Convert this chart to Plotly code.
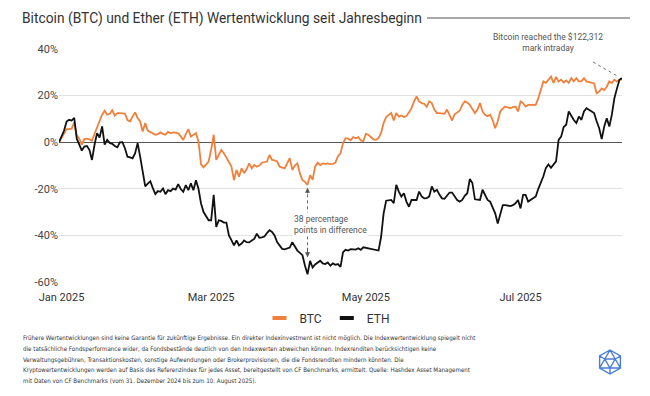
import math
import pandas as pd
import plotly.graph_objects as go

# ---------------- data ----------------
dates = pd.date_range("2024-12-31", "2025-08-10", freq="D").strftime("%Y-%m-%d").tolist()

btc = [
    0, 2, 4, 5.6, 5.6, 5.8, 8.5, 3, 1.5, -1,
    1.3, 1.5, 1.2, 0.6, 3.5, 6.5, 9, 11.8, 13.5, 11.8,
    12.2, 13.7, 11.4, 12.5, 12.5, 12.5, 12.3, 9.5, 8.9, 11,
    12.8, 10.4, 8.9, 4.6, 8.2, 5, 4.5, 3.9, 3.2, 3.5,
    4.2, 3.6, 3.2, 4.4, 3.9, 4.2, 4, 3.9, 2.5, 1,
    3.5, 5.6, 2.4, 3.2, 3.9, 0.3, -9.5, -10.8, -9.5, -8.3,
    -3.2, 3.2, -7.6, -5.4, -3.3, -4.7, -6.9, -8.5, -10.5, -16.3,
    -11.9, -14.8, -11.2, -13.3, -11.5, -9.1, -11.2, -9.8, -10.5, -10,
    -8.8, -8.5, -8.3, -5.5, -7.6, -7.8, -8.3, -10.5, -10.8, -11.2,
    -9, -6.9, -11.9, -10, -9.1, -13.4, -16.3, -17, -18.3, -14.2,
    -16.1, -10.5, -8.8, -9.8, -9.1, -9.3, -9.1, -9.4, -9.3, -8.8,
    -6, -4.8, -0.4, 1.7, 1.5, 0.8, 2.2, 1.7, 2.2, 0.8,
    0.5, 3.6, 3.2, 2.2, 1.2, 1, 1.7, 4, 8.2, 10.8,
    11.5, 12.5, 9.3, 12.5, 11, 11.5, 10.8, 11.2, 12.8, 14.6,
    17.5, 19.6, 17.5, 16.8, 16.5, 15.2, 17.5, 16.8, 14, 12.5,
    12.5, 12.5, 12.2, 14, 11.8, 9.3, 12, 12.8, 13.5, 16,
    17.5, 17, 16, 14.2, 12.5, 14, 16.8, 13.2, 11.8, 11.2,
    11.8, 9.5, 6, 9, 13.2, 14.5, 15.3, 14.9, 14.6, 15.1,
    15.3, 13.2, 17.5, 16.8, 15.3, 16, 16, 16, 16, 18.9,
    22.5, 26.1, 25.5, 26.8, 28.2, 25.5, 28, 26.1, 26.8, 25.6,
    26.5, 25.5, 27.5, 26.1, 27.5, 26.1, 26.1, 27.5, 26.1, 25.8,
    25.5, 25.2, 21, 21.7, 23.1, 22.4, 23.8, 26.1, 25.4, 26.8,
    26.1, 26.8, 27,
]

eth = [
    0, 2.5, 5, 8.9, 9.6, 9.3, 10.4, 1.5, -1.2, -3.6,
    -1.9, -1.6, -3.3, -7.6, -1.2, 3.9, 2, 6.8, -1, 1,
    -0.3, -0.7, -1.6, -2.2, -0.1, 0, -2.6, -6.2, -6.5, -6.9,
    -4.8, -0.4, -6.2, -13.4, -19, -17.8, -16.8, -19.7, -22.3, -21,
    -21.3, -19.9, -22.3, -20.6, -21, -19.9, -20.3, -18, -20.1, -21.3,
    -18.4, -20.6, -17.7, -20.6, -16.3, -20, -26.3, -30, -31.8, -33.5,
    -33.5, -22.6, -36.4, -33.5, -33.8, -34.5, -34.5, -40, -42, -44.3,
    -42.2, -44.3, -43.5, -42.2, -42.9, -43, -42.2, -41.5, -39.3, -41,
    -40.8, -40.5, -39, -37.8, -38.5, -40, -42.9, -44.5, -45.8, -46,
    -45.5, -45.2, -42.9, -44.5, -46.5, -47.5, -48.5, -53, -56.7, -50.9,
    -53.8, -52.5, -51.5, -50.9, -52, -52.3, -51.6, -53, -52, -52.6,
    -52.3, -53.5, -47.2, -46.2, -46.5, -45.9, -46, -46.1, -45.5, -46.2,
    -45.1, -45.3, -45.4, -45.8, -46.1, -46.3, -46.5, -40.7, -30.6, -25.1,
    -24.8, -24.8, -26.2, -18.3, -21.2, -23.3, -21.9, -25.5, -27.7, -24.8,
    -24.8, -24.8, -21.2, -23.3, -24.1, -24, -23.3, -19, -21.2, -20.4,
    -22.5, -24.1, -24.3, -23, -21.6, -21.6, -23.5, -24.8, -25.5, -24.8,
    -23, -21.9, -15.8, -17.5, -24.5, -24.5, -24.8, -20.4, -22.5, -24.8,
    -25.5, -28, -30.5, -34.9, -30.5, -27, -27, -27.2, -27.4, -27,
    -26.2, -24.8, -28.4, -22.6, -22.6, -25.5, -24.8, -24, -23.3, -20,
    -17.5, -14.6, -11, -9.6, -11, -9.6, -8.2, 1, 2.4, 6.5,
    7.5, 13.2, 11.3, 9.5, 8.2, 11, 9.6, 13.2, 14.6, 13.8,
    13.2, 12.5, 9, 6, 1.3, 6.7, 10.3, 6.7, 11.8, 18.9,
    23, 26.8, 27.5,
]

y_ticks = [-60, -40, -20, 0, 20, 40]
y_tick_labels = ["-60%", "-40%", "-20%", "0%", "20%", "40%"]
x_ticks = ["2025-01-01", "2025-03-01", "2025-05-01", "2025-07-01"]
x_tick_labels = ["Jan 2025", "Mar 2025", "May 2025", "Jul 2025"]

footer_lines = [
    "Frühere Wertentwicklungen sind keine Garantie für zukünftige Ergebnisse. Ein direkter Indexinvestment ist nicht möglich. Die Indexwertentwicklung spiegelt nicht",
    "die tatsächliche Fondsperformance wider, da Fondsbestände deutlich von den Indexwerten abweichen können. Indexrenditen berücksichtigen keine",
    "Verwaltungsgebühren, Transaktionskosten, sonstige Aufwendungen oder Brokerprovisionen, die die Fondsrenditen mindern könnten. Die",
    "Kryptowertentwicklungen werden auf Basis des Referenzindex für jedes Asset, bereitgestellt von CF Benchmarks, ermittelt. Quelle: Hashdex Asset Management",
    "mit Daten von CF Benchmarks (vom 31. Dezember 2024 bis zum 10. August 2025).",
]

assert len(dates) == len(btc) == len(eth)

# ---------------- styling ----------------
OFF = 8                      # page body margin of the browser
W, H = 650 - OFF, 396 - OFF
L, R, T, B = 51, 28, 41, 114
PW, PH = W - L - R, H - T - B
BTC_COLOR = "#F0803C"
ETH_COLOR = "#111111"
FONT = "Roboto, 'Noto Sans', sans-serif"
FOOT_FONT = "'Liberation Sans Narrow', 'DejaVu Sans Condensed', 'Liberation Sans', sans-serif"


def px_x(xs):
    """screen x pixel -> paper coordinate"""
    return (xs - OFF - L) / PW


def px_y(ys):
    """screen y pixel -> paper coordinate"""
    return (H - B - (ys - OFF)) / PH


fig = go.Figure()
fig.add_trace(go.Scatter(x=dates, y=btc, mode="lines", name="BTC",
                         line=dict(color=BTC_COLOR, width=1.8), showlegend=False))
fig.add_trace(go.Scatter(x=dates, y=eth, mode="lines", name="ETH",
                         line=dict(color=ETH_COLOR, width=1.8), showlegend=False))
for name, col in (("BTC", BTC_COLOR), ("ETH", ETH_COLOR)):
    fig.add_trace(go.Scatter(x=[None], y=[None], mode="markers", name=name,
                             marker=dict(symbol="line-ew", size=10,
                                         line=dict(color=col, width=4))))

i_min = btc.index(min(btc))
d_min = dates[i_min]

shapes = [
    dict(type="line", xref="paper", yref="paper", x0=px_x(427), x1=px_x(630),
         y0=px_y(18), y1=px_y(18), line=dict(color="#555555", width=1)),
    dict(type="line", xref="x", yref="y", x0=d_min, x1=d_min,
         y0=btc[i_min] - 1.5, y1=eth[i_min] + 7.5,
         line=dict(color="#666666", width=1, dash="dot")),
    dict(type="line", xref="paper", yref="paper", x0=px_x(593), y0=px_y(62),
         x1=px_x(619), y1=px_y(77), line=dict(color="#777777", width=1, dash="dot")),
]

# logo (hexagonal wireframe)
cx, cy, r = 610, 362, 12


def P(dx, dy):
    return f"{px_x(cx + dx):.5f},{px_y(cy - dy):.5f}"


hexv = [(r * math.cos(math.radians(a)), r * math.sin(math.radians(a))) for a in (90, 30, -30, -90, -150, 150)]
Tb = (0, -0.5 * r)
Tc = (0.5 * r * math.cos(math.radians(30)), 0.5 * r * math.sin(math.radians(30)))
Td = (-Tc[0], Tc[1])
path = "M " + " L ".join(P(*v) for v in hexv) + " Z"
path += " M " + P(*Tb) + " L " + P(*Tc) + " L " + P(*Td) + " Z"
for a, b in ((hexv[0], Tc), (hexv[0], Td), (hexv[1], Tc), (hexv[2], Tc), (hexv[2], Tb),
             (hexv[3], Tb), (hexv[4], Tb), (hexv[4], Td), (hexv[5], Td)):
    path += " M " + P(*a) + " L " + P(*b)
shapes.append(dict(type="path", xref="paper", yref="paper", path=path,
                   line=dict(color="#4A7DD8", width=1.4)))

annotations = [
    dict(xref="paper", yref="paper", x=px_x(548), y=px_y(43), xanchor="center", yanchor="middle",
         text="Bitcoin reached the $122,312<br>mark intraday", showarrow=False, align="center",
         bgcolor="white", font=dict(size=8.5, color="#555555", family=FONT)),
    dict(xref="paper", yref="paper", x=px_x(292), y=px_y(224), xanchor="left", yanchor="middle",
         text="38 percentage<br>points in difference", showarrow=False, align="left",
         bgcolor="white", font=dict(size=8.5, color="#555555", family=FONT)),
    dict(xref="x", yref="y", x=d_min, y=btc[i_min], text="", showarrow=True, arrowhead=2,
         arrowsize=1, arrowwidth=1, arrowcolor="#555555", ax=0, ay=10, standoff=3),
    dict(xref="x", yref="y", x=d_min, y=eth[i_min], text="", showarrow=True, arrowhead=2,
         arrowsize=1, arrowwidth=1, arrowcolor="#555555", ax=0, ay=-28, standoff=17),
]
for k, line in enumerate(footer_lines):
    annotations.append(dict(xref="paper", yref="paper", x=px_x(21), y=px_y(338.3 + 10.7 * k),
                            xanchor="left", yanchor="middle", text=line, showarrow=False,
                            align="left", font=dict(size=6.2, color="#333333", family=FOOT_FONT)))

fig.update_layout(
    width=W, height=H,
    margin=dict(l=L, r=R, t=T, b=B),
    paper_bgcolor="white", plot_bgcolor="white",
    font=dict(family=FONT, color="#333333"),
    title=dict(text="Bitcoin (BTC) und Ether (ETH) Wertentwicklung seit Jahresbeginn",
               x=(22 - OFF) / W, xref="container", xanchor="left",
               y=1 - (18 - OFF) / H, yref="container", yanchor="middle",
               font=dict(size=13.8, color="#333333", family=FONT)),
    xaxis=dict(type="date", range=[dates[0], dates[-1]], tickvals=x_ticks, ticktext=x_tick_labels,
               showgrid=False, zeroline=False, showline=False,
               ticks="outside", ticklen=5, tickcolor="rgba(0,0,0,0)",
               tickfont=dict(size=11, color="#333333")),
    yaxis=dict(range=[-60, 40], tickvals=y_ticks, ticktext=y_tick_labels,
               showgrid=True, gridcolor="#e2e2e2", gridwidth=1,
               zeroline=True, zerolinecolor="#555555", zerolinewidth=1,
               showline=False, ticks="", tickfont=dict(size=11, color="#444444")),
    legend=dict(orientation="h", x=px_x(327), y=px_y(318), xanchor="center", yanchor="middle",
                font=dict(size=12, color="#333333"), itemwidth=30, bgcolor="rgba(0,0,0,0)"),
    shapes=shapes,
    annotations=annotations,
    showlegend=True,
)

fig.write_html("out.html")
